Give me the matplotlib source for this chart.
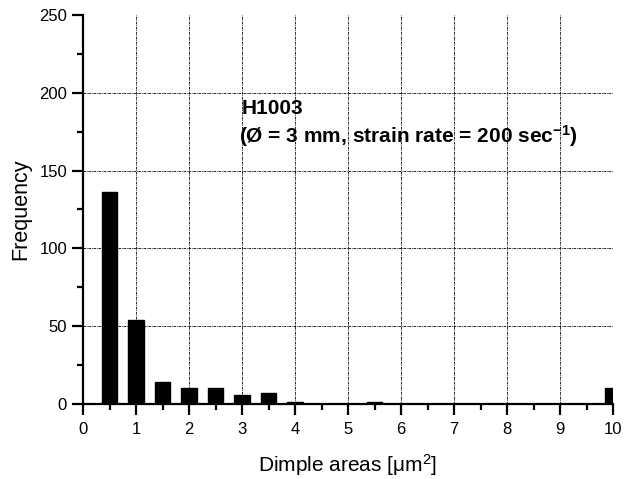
import matplotlib
matplotlib.use("Agg")
import matplotlib.pyplot as plt
from matplotlib.ticker import MultipleLocator

plt.rcParams['font.family'] = ['Liberation Sans', 'DejaVu Sans']
plt.rcParams['mathtext.fontset'] = 'custom'
plt.rcParams['mathtext.rm'] = 'Liberation Sans'
plt.rcParams['mathtext.it'] = 'Liberation Sans:italic'
plt.rcParams['mathtext.bf'] = 'Liberation Sans:bold'

# Histogram of dimple areas (bin centres in um^2, counts)
bin_centers = [0.5, 1.0, 1.5, 2.0, 2.5, 3.0, 3.5, 4.0, 4.5, 5.0, 5.5, 10.0]
counts = [136, 54, 14, 10, 10, 6, 7, 1.5, 0, 0, 1, 10]
x_ticks = list(range(0, 11))
y_ticks = [0, 50, 100, 150, 200, 250]

fig = plt.figure(figsize=(6.27, 4.79), dpi=100)
ax = fig.add_axes([0.1324, 0.1566, 0.8453, 0.8121])

ax.bar(bin_centers, counts, width=0.3, color='black', edgecolor='black', zorder=3)

ax.set_xlim(0, 10)
ax.set_ylim(0, 250)
ax.set_xticks(x_ticks)
ax.set_yticks(y_ticks)
ax.xaxis.set_minor_locator(MultipleLocator(0.5))
ax.yaxis.set_minor_locator(MultipleLocator(25))

for s in ['top', 'right']:
    ax.spines[s].set_visible(False)
for s in ['left', 'bottom']:
    ax.spines[s].set_linewidth(1.6)
    ax.spines[s].set_zorder(4)

ax.tick_params(which='major', direction='out', length=8, width=1.6, labelsize=12)
ax.tick_params(axis='x', which='major', pad=5)
ax.tick_params(which='minor', direction='out', length=4, width=1.6)

# dash-dot grid at the major ticks
for xv in x_ticks[1:-1]:
    ax.axvline(xv, color='black', lw=0.6, ls=(0, (3, 1, 1, 1)), zorder=1)
for yv in y_ticks[1:-1]:
    ax.axhline(yv, color='black', lw=0.6, ls=(0, (3, 1, 1, 1)), zorder=1)

ax.set_xlabel(r'Dimple areas [$\mathrm{\mu m}^2$]', fontsize=15, labelpad=11)
ax.set_ylabel('Frequency', fontsize=15.5, labelpad=6)

ax.text(3.0, 190, 'H1003', fontsize=15, fontweight='bold', va='center', ha='left')
ax.text(2.95, 172, r'(Ø = 3 mm, strain rate = 200 sec$^{\mathbf{-1}}$)',
        fontsize=15, fontweight='bold', va='center', ha='left')

fig.savefig('out.png', dpi=100)
